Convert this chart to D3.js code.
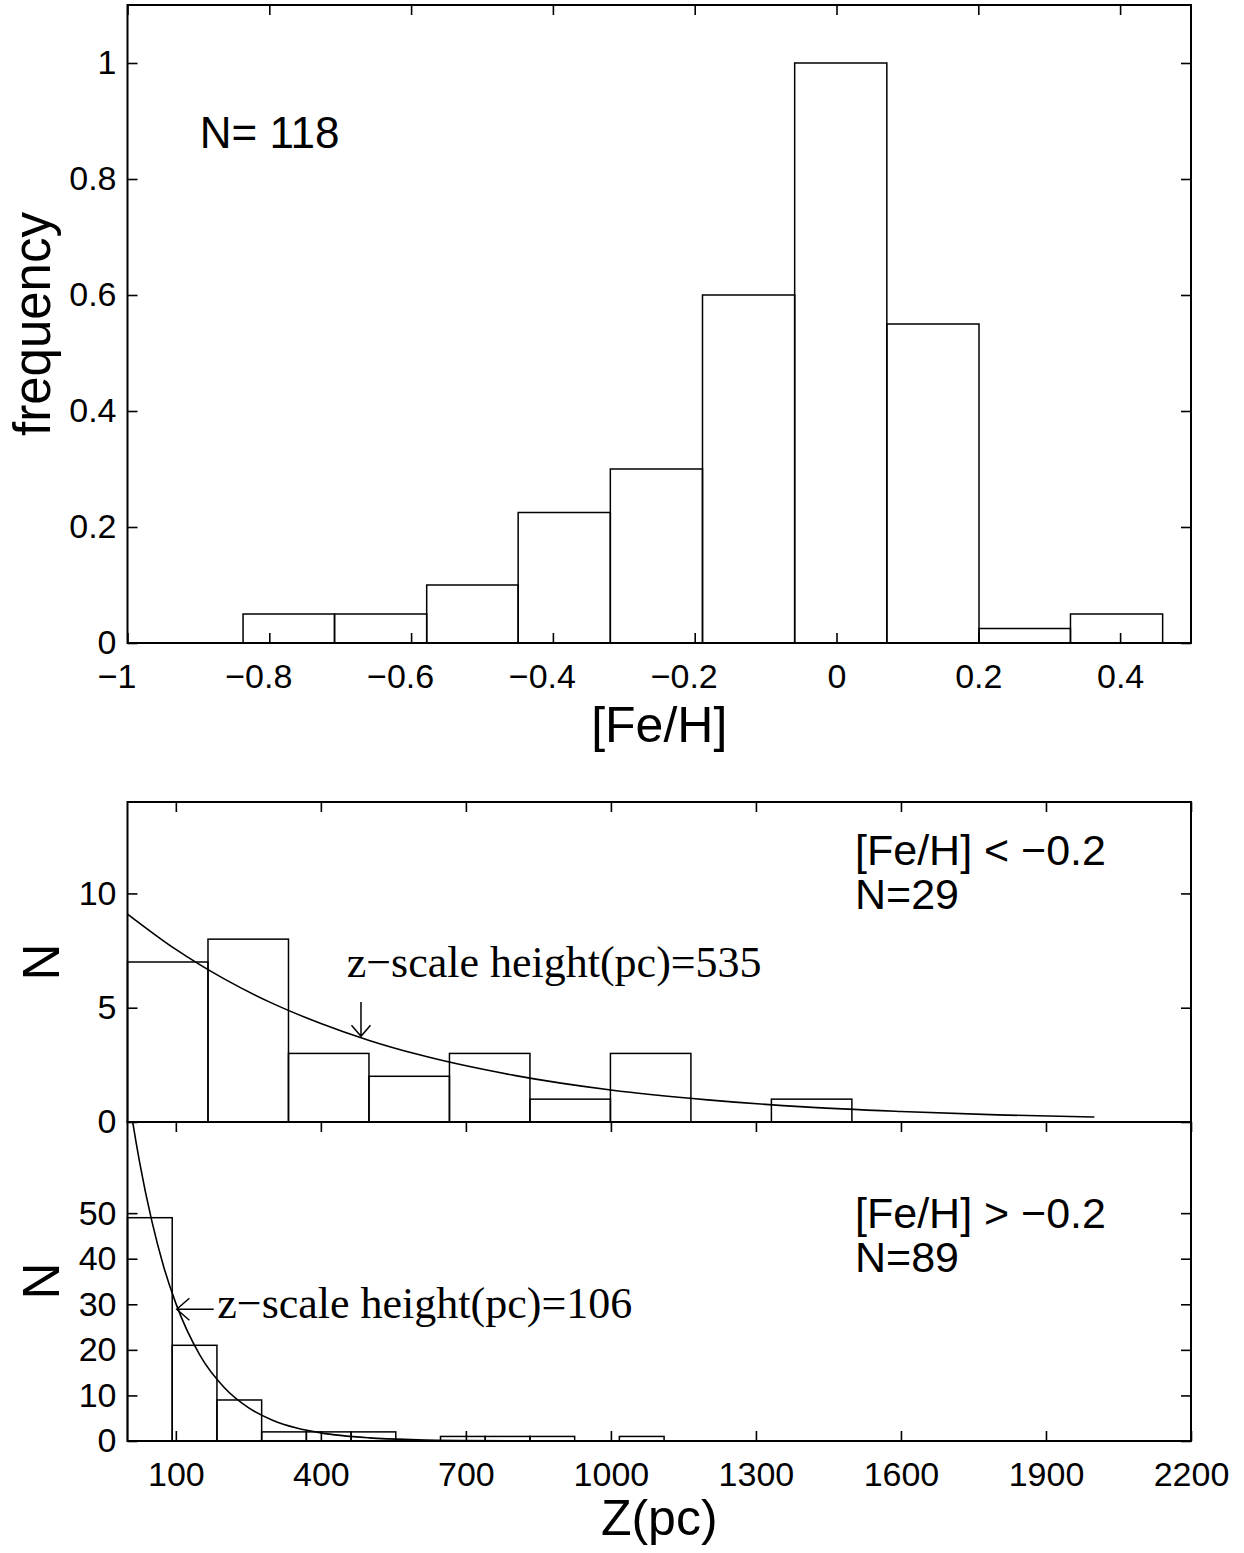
<!DOCTYPE html>
<html>
<head>
<meta charset="utf-8">
<script src="https://cdn.jsdelivr.net/npm/d3@7"></script>
<style>
  html, body { margin: 0; padding: 0; background: #fff; }
  svg { display: block; }
</style>
</head>
<body>
<div id="chart"></div>
<script>
// ---- data ----
// top panel: [Fe/H] histogram (normalised to peak)
var feEdges = [-0.837, -0.708, -0.578, -0.449, -0.319, -0.189, -0.059, 0.071, 0.201, 0.330, 0.460];
var feFreq = [0.05, 0.05, 0.10, 0.225, 0.30, 0.60, 1.0, 0.55, 0.025, 0.05];
var feTicks = [-1, -0.8, -0.6, -0.4, -0.2, 0, 0.2, 0.4];
var freqTicks = [0, 0.2, 0.4, 0.6, 0.8, 1];

// bottom panels: Z distributions
var zTicks = [100, 400, 700, 1000, 1300, 1600, 1900, 2200];
var poorEdges = [0, 166.5, 333, 499.5, 666, 832.5, 999, 1165.5, 1332, 1498.5];
var poorCounts = [7, 8, 3, 2, 3, 1, 3, 0, 1];
var poorTicks = [0, 5, 10];
var richEdges = [0, 92.5, 185, 277.5, 370, 462.5, 555, 647.5, 740, 832.5, 925, 1017.5, 1110];
var richCounts = [49, 21, 9, 2, 2, 2, 0, 1, 1, 1, 0, 1];
var richTicks = [0, 10, 20, 30, 40, 50];

// exponential fit curves
var poorFitZ = [0, 100, 200, 300, 400, 500, 600, 800, 1000, 1200, 1400, 1600, 1800, 2000];
var poorFitN = [9.1, 7.55, 6.26, 5.19, 4.31, 3.57, 2.96, 2.04, 1.40, 0.97, 0.66, 0.46, 0.31, 0.22];
var richFitZ = [0, 10, 25, 50, 75, 100, 150, 200, 250, 300, 350, 400, 500, 600, 700, 800, 1000, 1500, 2000];
var richFitN = [77.5, 70.5, 61.2, 48.4, 38.2, 30.2, 18.8, 11.75, 7.33, 4.57, 2.85, 1.78, 0.69, 0.27, 0.10, 0.04, 0.01, 0, 0];

var SANS = "'Liberation Sans', Arial, Helvetica, sans-serif";
var SERIF = "'Liberation Serif', 'Times New Roman', Times, serif";
var W = 1244, H = 1553;
var L = 127.5, R = 1191;
var TICK = 10;

var svg = d3.select("#chart").append("svg")
  .attr("width", W).attr("height", H)
  .style("background", "#fff");

function fmt(d) { return String(d).replace("-", "\u2212"); }

// draws the ticks + labels of one panel, then its frame
function axes(g, x, y, opt) {
  var bottom = g.append("g").attr("transform", "translate(0," + y.range()[0] + ")")
    .call(d3.axisBottom(x).tickValues(opt.xTicks).tickSizeInner(opt.xLabels ? -TICK : TICK)
      .tickSizeOuter(0).tickPadding(21).tickFormat(opt.xLabels ? fmt : ""));
  var top = g.append("g").attr("transform", "translate(0," + y.range()[1] + ")")
    .call(d3.axisTop(x).tickValues(opt.xTicks).tickSizeInner(-TICK).tickSizeOuter(0).tickFormat(""));
  var left = g.append("g").attr("transform", "translate(" + L + ",0)")
    .call(d3.axisLeft(y).tickValues(opt.yTicks).tickSizeInner(-TICK).tickSizeOuter(0)
      .tickPadding(11).tickFormat(fmt));
  var right = g.append("g").attr("transform", "translate(" + R + ",0)")
    .call(d3.axisRight(y).tickValues(opt.yTicks).tickSizeInner(-TICK).tickSizeOuter(0).tickFormat(""));
  [bottom, top, left, right].forEach(function (a) {
    a.select(".domain").remove();
    a.selectAll("line").attr("stroke", "#000").attr("stroke-width", 1.6);
    a.selectAll("text").attr("fill", "#000").attr("font-size", "34px").attr("font-family", SANS);
  });
  if (opt.noBottomTicks) bottom.selectAll("line").remove();
  // minus-signed labels sit a little left of their tick, as in the original
  bottom.selectAll("text").attr("dx", function (d) { return d < 0 ? -11 : 0; });
  g.append("rect")
    .attr("x", L).attr("y", y.range()[1])
    .attr("width", R - L).attr("height", y.range()[0] - y.range()[1])
    .attr("fill", "none").attr("stroke", "#000").attr("stroke-width", 2);
}

function bars(g, x, y, edges, vals) {
  g.selectAll(null).data(vals).enter().append("rect")
    .attr("x", function (d, i) { return x(edges[i]); })
    .attr("width", function (d, i) { return x(edges[i + 1]) - x(edges[i]); })
    .attr("y", function (d) { return y(d); })
    .attr("height", function (d) { return y(0) - y(d); })
    .attr("fill", "none").attr("stroke", "#000").attr("stroke-width", 1.5);
}

function ylabel(text, cx, cy) {
  svg.append("text")
    .attr("transform", "translate(" + cx + "," + cy + ") rotate(-90)")
    .attr("text-anchor", "middle")
    .attr("font-size", "51px").attr("font-family", SANS).attr("fill", "#000")
    .text(text);
}

function label(text, x, y, size, family, anchor) {
  svg.append("text").attr("x", x).attr("y", y)
    .attr("text-anchor", anchor || "start")
    .attr("font-size", size + "px").attr("font-family", family).attr("fill", "#000")
    .text(text);
}

// ============ TOP PANEL ============
var xFe = d3.scaleLinear().domain([-1, 0.5]).range([L, R]);
var yFreq = d3.scaleLinear().domain([0, 1.1]).range([643, 5]);
var g1 = svg.append("g");
bars(g1, xFe, yFreq, feEdges, feFreq);
axes(g1, xFe, yFreq, { xTicks: feTicks, yTicks: freqTicks, xLabels: true });
label("N= 118", 199.7, 148.3, 44, SANS);
label("[Fe/H]", (L + R) / 2, 742, 50, SANS, "middle");
ylabel("frequency", 50, 324);

// ============ BOTTOM PANELS ============
var xZ = d3.scaleLinear().domain([0, 2200]).range([L, R]);
var yPoor = d3.scaleLinear().domain([0, 14]).range([1122, 802]);
var yRich = d3.scaleLinear().domain([0, 70]).range([1441, 1122]);

var defs = svg.append("defs");
defs.append("clipPath").attr("id", "clip-poor").append("rect")
  .attr("x", L).attr("y", 802).attr("width", R - L).attr("height", 320);
defs.append("clipPath").attr("id", "clip-rich").append("rect")
  .attr("x", L).attr("y", 1122).attr("width", R - L).attr("height", 319);

// metal-poor subpanel
var g2 = svg.append("g");
bars(g2, xZ, yPoor, poorEdges, poorCounts);
g2.append("path")
  .datum(poorFitZ.map(function (z, i) { return [z, poorFitN[i]]; }))
  .attr("clip-path", "url(#clip-poor)")
  .attr("d", d3.line().x(function (d) { return xZ(d[0]); }).y(function (d) { return yPoor(d[1]); })
    .curve(d3.curveMonotoneX))
  .attr("fill", "none").attr("stroke", "#000").attr("stroke-width", 1.6);
axes(g2, xZ, yPoor, { xTicks: zTicks, yTicks: poorTicks, xLabels: false, noBottomTicks: true });

// metal-rich subpanel
var g3 = svg.append("g");
bars(g3, xZ, yRich, richEdges, richCounts);
g3.append("path")
  .datum(richFitZ.map(function (z, i) { return [z, richFitN[i]]; }))
  .attr("clip-path", "url(#clip-rich)")
  .attr("d", d3.line().x(function (d) { return xZ(d[0]); }).y(function (d) { return yRich(d[1]); })
    .curve(d3.curveMonotoneX))
  .attr("fill", "none").attr("stroke", "#000").attr("stroke-width", 1.6);
axes(g3, xZ, yRich, { xTicks: zTicks, yTicks: richTicks, xLabels: true });

// annotations
label("[Fe/H] < \u22120.2", 855, 865, 43, SANS);
label("N=29", 855, 909, 43, SANS);
label("[Fe/H] > \u22120.2", 855, 1228, 43, SANS);
label("N=89", 855, 1272, 43, SANS);

label("z\u2212scale height(pc)=535", 346.7, 977, 44, SERIF);
label("z\u2212scale height(pc)=106", 217.3, 1318, 44, SERIF);

// arrows pointing at the fitted curves
var ax1 = xZ(483), ay1 = yPoor(3.75), ay1s = yPoor(5.25);
svg.append("path")
  .attr("d", "M" + ax1 + "," + ay1s + "V" + ay1 +
    "M" + (ax1 - 9.5) + "," + (ay1 - 11) + "L" + ax1 + "," + ay1 + "L" + (ax1 + 9.5) + "," + (ay1 - 11))
  .attr("fill", "none").attr("stroke", "#000").attr("stroke-width", 1.5);
var ax2 = xZ(101.8), ay2 = yRich(28.9);
svg.append("path")
  .attr("d", "M" + (ax2 + 37) + "," + ay2 + "H" + ax2 +
    "M" + (ax2 + 12.7) + "," + (ay2 - 11) + "L" + ax2 + "," + ay2 + "L" + (ax2 + 12.7) + "," + (ay2 + 11))
  .attr("fill", "none").attr("stroke", "#000").attr("stroke-width", 1.5);

label("Z(pc)", (L + R) / 2, 1535, 50, SANS, "middle");
ylabel("N", 59, 962);
ylabel("N", 59, 1281);
</script>
</body>
</html>
